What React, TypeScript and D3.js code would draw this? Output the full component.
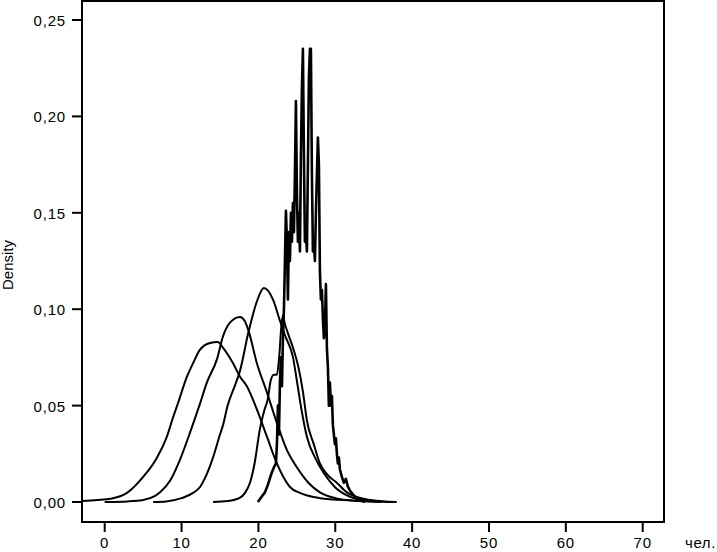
import React from "react";
import * as d3 from "d3";

// ---- data (x in persons, y density) ----
const xTicks = [0, 10, 20, 30, 40, 50, 60, 70];
const yTicks = [0, 0.05, 0.1, 0.15, 0.2, 0.25];

const curveAx = [-2.9, -1.0, 0.8, 2.9, 5.0, 6.8, 8.1, 8.9, 9.6, 10.7, 11.5, 12.4, 13.7, 14.7, 15.4, 16.7, 17.6, 18.5, 19.8, 21.1, 22.4, 24.1, 25.4, 28, 32, 36];
const curveAy = [0.0005, 0.001, 0.0017, 0.0047, 0.013, 0.023, 0.034, 0.044, 0.052, 0.065, 0.072, 0.079, 0.0825, 0.083, 0.08, 0.072, 0.065, 0.06, 0.048, 0.034, 0.02, 0.0078, 0.0047, 0.002, 0.0008, 0.0002];

const curveBx = [0, 3, 5, 6.5, 7.2, 8.5, 9.8, 11.1, 12.4, 13.3, 14.6, 15.4, 16.3, 17.6, 18.2, 18.7, 19.8, 21.1, 22.4, 23.7, 25, 26.5, 28, 30, 33, 36];
const curveBy = [0, 0.0003, 0.001, 0.003, 0.005, 0.011, 0.022, 0.036, 0.051, 0.062, 0.074, 0.086, 0.093, 0.096, 0.094, 0.089, 0.072, 0.057, 0.041, 0.027, 0.018, 0.01, 0.005, 0.002, 0.0005, 0];

const curveCx = [6.3, 8, 10, 11.5, 12.4, 13, 14, 15, 15.4, 16, 17, 17.6, 18.7, 19.8, 20.7, 21.9, 22.8, 23.5, 24.5, 25.0, 25.6, 26.3, 27.5, 28.5, 30, 32, 34, 36, 37.5];
const curveCy = [0, 0.0003, 0.002, 0.0047, 0.0078, 0.012, 0.022, 0.035, 0.04, 0.05, 0.061, 0.068, 0.088, 0.104, 0.111, 0.105, 0.094, 0.086, 0.075, 0.063, 0.048, 0.034, 0.022, 0.015, 0.0075, 0.0026, 0.001, 0.0003, 0];

const curveDx = [14.1, 16, 17.5, 18.3, 18.9, 19.5, 20.2, 20.8, 21.2, 21.6, 22.0, 22.4, 22.7, 23.0, 23.2, 23.4, 23.8, 24.5, 25.2, 25.8, 26.3, 27.2, 28, 29, 30.2, 31.5, 32.8, 34.5, 36, 38];
const curveDy = [0, 0.0005, 0.002, 0.005, 0.01, 0.02, 0.038, 0.048, 0.053, 0.063, 0.066, 0.066, 0.075, 0.092, 0.097, 0.093, 0.088, 0.08, 0.07, 0.057, 0.0425, 0.03, 0.02, 0.014, 0.01, 0.005, 0.0026, 0.001, 0.0004, 0];

const curveEx = [19.93, 20.46, 20.85, 21.24, 21.63, 22.02, 22.28, 22.41, 22.54, 22.67, 22.80, 22.93, 23.06, 23.19, 23.32, 23.45, 23.58, 23.71, 23.84, 23.97, 24.10, 24.23, 24.36, 24.49, 24.62, 24.75, 24.88, 25.01, 25.14, 25.27, 25.40, 25.53, 25.66, 25.79, 25.92, 26.05, 26.18, 26.31, 26.44, 26.57, 26.70, 26.83, 26.96, 27.09, 27.22, 27.35, 27.48, 27.61, 27.74, 27.87, 28.00, 28.13, 28.26, 28.39, 28.52, 28.65, 28.78, 28.91, 29.04, 29.17, 29.30, 29.43, 29.56, 29.69, 29.82, 29.95, 30.08, 30.21, 30.34, 30.47, 30.60, 30.86, 31.12, 31.38, 31.64, 31.90, 32.29, 32.68, 33.20, 33.85];
const curveEy = [0, 0.003, 0.005, 0.009, 0.014, 0.018, 0.02, 0.03, 0.05, 0.035, 0.062, 0.075, 0.06, 0.085, 0.1, 0.125, 0.151, 0.135, 0.105, 0.14, 0.125, 0.15, 0.135, 0.155, 0.14, 0.17, 0.208, 0.16, 0.135, 0.15, 0.13, 0.18, 0.215, 0.235, 0.18, 0.135, 0.14, 0.13, 0.175, 0.22, 0.235, 0.235, 0.17, 0.13, 0.135, 0.125, 0.15, 0.17, 0.189, 0.175, 0.12, 0.105, 0.11, 0.095, 0.085, 0.09, 0.113, 0.08, 0.07, 0.05, 0.062, 0.05, 0.055, 0.04, 0.035, 0.03, 0.033, 0.025, 0.02, 0.023, 0.017, 0.013, 0.01, 0.012, 0.008, 0.006, 0.004, 0.002, 0.001, 0];

const W = 717;
const H = 552;
const frame = { left: 82, top: 1, right: 664, bottom: 522 };

export default function App() {
  const x = d3.scaleLinear().domain([0, 70]).range([104.7, 642.7]);
  const y = d3.scaleLinear().domain([0, 0.25]).range([502, 20]);

  const smooth = d3
    .line<[number, number]>()
    .x((d) => x(d[0]))
    .y((d) => y(d[1]))
    .curve(d3.curveMonotoneX);
  const jag = d3
    .line<[number, number]>()
    .x((d) => x(d[0]))
    .y((d) => y(d[1]))
    .curve(d3.curveLinear);

  const zip = (xs: number[], ys: number[]) => xs.map((v, i) => [v, ys[i]] as [number, number]);
  const smoothSeries = [
    zip(curveAx, curveAy),
    zip(curveBx, curveBy),
    zip(curveCx, curveCy),
    zip(curveDx, curveDy),
  ];
  const eSeries = zip(curveEx, curveEy);
  const fmt = (v: number) => d3.format(".2f")(v).replace(".", ",");
  const font = "'Liberation Sans', Arial, sans-serif";

  return (
    <svg
      width={W}
      height={H}
      style={{ position: "absolute", left: 0, top: 0, background: "#fff" }}
      fontFamily={font}
    >
      <rect x={0} y={0} width={W} height={H} fill="#fff" />
      {smoothSeries.map((s, i) => (
        <path key={i} d={smooth(s) || ""} fill="none" stroke="#000" strokeWidth={2} strokeLinejoin="round" />
      ))}
      <path d={jag(eSeries) || ""} fill="none" stroke="#000" strokeWidth={2.6} strokeLinejoin="round" />
      <rect
        x={frame.left}
        y={frame.top}
        width={frame.right - frame.left}
        height={frame.bottom - frame.top}
        fill="none"
        stroke="#000"
        strokeWidth={2}
      />
      {yTicks.map((t) => (
        <g key={t}>
          <line x1={frame.left - 10} x2={frame.left} y1={y(t)} y2={y(t)} stroke="#000" strokeWidth={2} />
          <text x={66} y={y(t)} dy="0.4em" textAnchor="end" fontSize={15} letterSpacing={0.8}>
            {fmt(t)}
          </text>
        </g>
      ))}
      {xTicks.map((t) => (
        <g key={t}>
          <line x1={x(t)} x2={x(t)} y1={frame.bottom} y2={frame.bottom + 10} stroke="#000" strokeWidth={2} />
          <text x={x(t)} y={548} textAnchor="middle" fontSize={15} letterSpacing={0.8}>
            {t}
          </text>
        </g>
      ))}
      <text x={685} y={548} fontSize={15} letterSpacing={0.6}>
        чел.
      </text>
      <text
        transform={`translate(13,265) rotate(-90)`}
        textAnchor="middle"
        fontSize={15}
      >
        Density
      </text>
    </svg>
  );
}
